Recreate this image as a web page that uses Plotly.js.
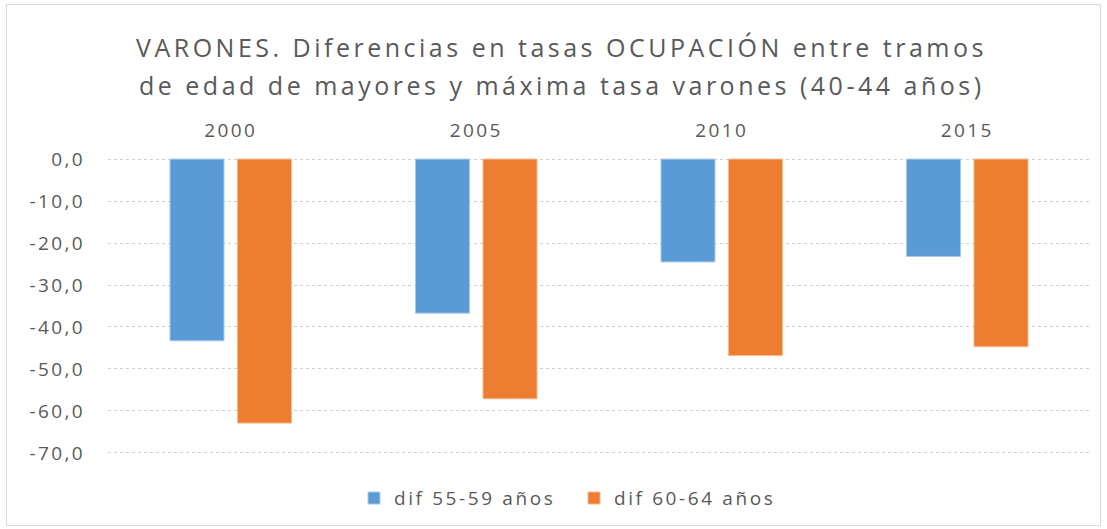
<!DOCTYPE html>
<html>
<head>
<meta charset="utf-8">
<script src="https://cdn.plot.ly/plotly-3.0.1.min.js"></script>
<style>
html,body{margin:0;padding:0;background:#fff;}
#frame{position:absolute;left:6px;top:4px;width:1095px;height:522px;border:1px solid #d9d9d9;box-sizing:border-box;}
#chart{position:absolute;left:0;top:0;width:1107px;height:529px;}
.annotation-text{letter-spacing:3.5px;}
.ytick text,.xtick text{letter-spacing:2.4px;}
.legendtext{letter-spacing:2.6px;}
</style>
</head>
<body>
<div id="frame"></div>
<div id="chart"></div>
<script>
const years = ["2000", "2005", "2010", "2015"];
const dif5559 = [-43.3, -36.7, -24.5, -23.2];
const dif6064 = [-62.9, -57.1, -46.8, -44.7];
const seriesNames = ["dif 55-59 años", "dif 60-64 años"];
const titleLines = ["VARONES. Diferencias en tasas OCUPACIÓN entre tramos", "de edad de mayores y máxima tasa varones (40-44 años)"];
const yTicks = [0, -10, -20, -30, -40, -50, -60, -70];

const fnt = "Open Sans, sans-serif";
const grey = "#595959";

const data = [
  {type: "bar", x: years, y: dif5559, name: seriesNames[0],
   marker: {color: "#5b9bd5", line: {color: "#a9c9ea", width: 1}}, hoverinfo: "y"},
  {type: "bar", x: years, y: dif6064, name: seriesNames[1],
   marker: {color: "#ed7d31", line: {color: "#f5b889", width: 1}}, hoverinfo: "y"}
];

const layout = {
  width: 1107, height: 529,
  paper_bgcolor: "rgba(0,0,0,0)", plot_bgcolor: "rgba(0,0,0,0)",
  margin: {l: 108, r: 17, t: 157, b: 74},
  barmode: "group", bargap: 0.45, bargroupgap: 0.2,
  font: {family: fnt, color: grey},
  xaxis: {side: "top", type: "category", showline: false, ticks: "", showgrid: false,
          tickfont: {size: 19, color: grey}, ticklabelstandoff: 15, zeroline: false},
  yaxis: {range: [-70.5, 0.5], tickvals: yTicks, ticktext: yTicks.map(v => v.toFixed(1).replace(".", ",")),
          showgrid: true, gridcolor: "#cfcfcf", griddash: "dot", gridwidth: 1,
          zeroline: false, showline: false, ticks: "", tickfont: {size: 19, color: grey}, ticklabelstandoff: 22},
  showlegend: true,
  legend: {orientation: "h", x: 0.2505, xanchor: "left", y: -0.145, yanchor: "middle",
           font: {size: 19, color: grey}, itemwidth: 30, traceorder: "normal",
           entrywidth: 175, entrywidthmode: "pixels"},
  annotations: titleLines.map((t, i) => ({
    text: t, xref: "paper", yref: "paper", x: 0.462, xanchor: "center",
    y: 1, yshift: 157 - 47 - 38 * i, yanchor: "middle", showarrow: false,
    font: {size: 25, color: grey, family: fnt}
  }))
};

Plotly.newPlot("chart", data, layout, {displayModeBar: false, staticPlot: true});
</script>
</body>
</html>
